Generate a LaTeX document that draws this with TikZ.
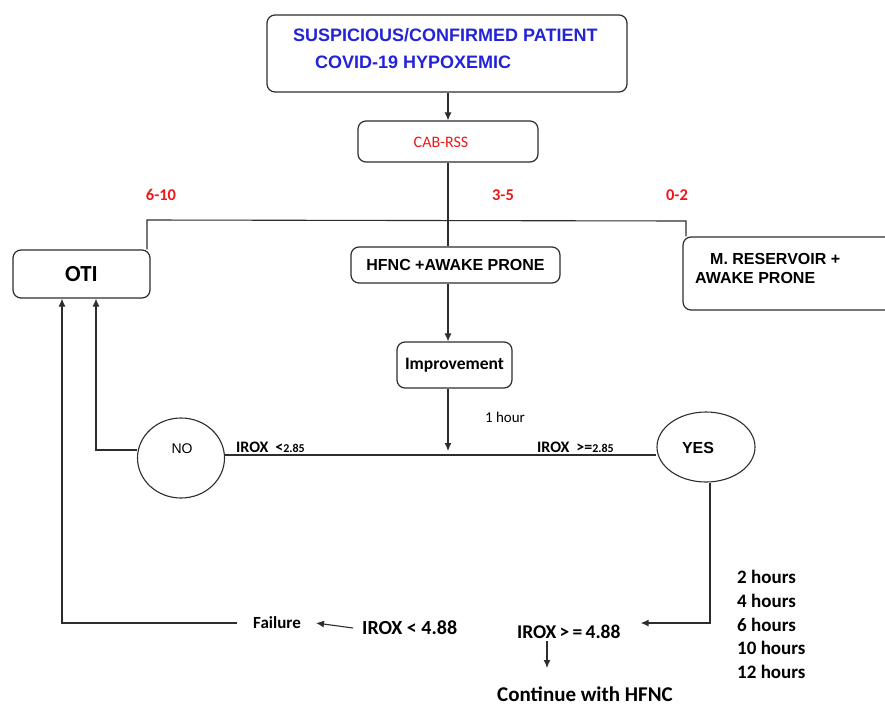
\documentclass[tikz,border=0pt]{standalone}
\usepackage{fontspec}
\setmainfont{Carlito}
\newfontfamily\arialf{Liberation Sans}
\usetikzlibrary{arrows.meta,shapes.geometric}
\definecolor{ttblue}{RGB}{35,35,215}
\definecolor{ttred}{RGB}{235,25,25}
\definecolor{lin}{RGB}{45,45,45}
\tikzset{
  box/.style={draw=lin, line width=1.2pt, rounded corners=8pt, inner sep=0pt},
  ell/.style={draw=lin, line width=1.1pt, ellipse, inner sep=0pt},
  ln/.style={draw=lin, line width=1.1pt},
  arr/.style={ln, -{Latex[length=8pt,width=7pt]}},
  txt/.style={inner sep=0pt},
  hdr/.style={txt, text=ttblue, font=\arialf\bfseries\fontsize{18}{20}\selectfont},
  score/.style={txt, text=ttred, font=\bfseries\fontsize{16.5}{18}\selectfont},
  arb/.style={font=\arialf\bfseries\fontsize{16}{18}\selectfont},
  cb/.style={txt, font=\bfseries\fontsize{#1}{#1}\selectfont},
}
\begin{document}
\begin{tikzpicture}[x=1pt,y=-1pt]
\path[use as bounding box, clip] (0,0) rectangle (885,707);
\fill[white] (0,0) rectangle (885,707);

% header
\node[box, minimum width=360pt, minimum height=77pt] (top) at (447,53.5) {};
\node[hdr, anchor=west] (t1) at (293,35) {SUSPICIOUS/CONFIRMED PATIENT};
\node[hdr, anchor=west] (t2) at (315,62) {COVID-19 HYPOXEMIC};

% CAB-RSS
\node[box, minimum width=180pt, minimum height=41pt] (cab) at (448,141.5) {};
\node[txt, text=ttred, font=\fontsize{16}{18}\selectfont] (cabt) at (441,142) {CAB-RSS};

\coordinate (spine) at (448,0);
\draw[arr] (top.south -| spine) -- (cab.north);

% scores
\node[score] (n610) at (161,195) {6-10};
\node[score] (n35) at (503,195) {3-5};
\node[score] (n02) at (677,195) {0-2};

% first-level boxes
\node[box, minimum width=137pt, minimum height=48pt, font=\bfseries\fontsize{23}{24}\selectfont] (oti) at (81.5,274) {OTI};
\node[box, minimum width=209pt, minimum height=36pt, arb] (hfnc) at (455.5,265) {HFNC +AWAKE PRONE};
\node[box, minimum width=212pt, minimum height=73pt] (mres) at (789,273.5) {};
\node[txt, arb, anchor=west] (m1) at (710,259) {M. RESERVOIR +};
\node[txt, arb, anchor=west] (m2) at (695,278) {AWAKE PRONE};

\coordinate (jl) at (147,220);
\coordinate (jr) at (686,221);
\draw[ln] (oti.north -| jl) -- (jl) -- (jr) -- (jr |- mres.north);
\draw[ln] (cab.south) -- (hfnc.north -| spine);

% improvement
\node[box, minimum width=115pt, minimum height=46pt, font=\bfseries\fontsize{17.5}{18}\selectfont] (imp) at (454.5,365) {Improvement};
\draw[arr] (hfnc.south -| spine) -- (imp.north -| spine);
\coordinate (hy) at (448,455);
\coordinate (hya) at (448,451);
\draw[arr] (imp.south -| spine) -- (hya);
\node[txt, font=\fontsize{15}{16}\selectfont] (oneh) at (505,417) {1 hour};

% NO / YES
\node[ell, minimum width=87pt, minimum height=80pt] (no) at (181,458) {};
\node[txt, font=\arialf\fontsize{14}{16}\selectfont] (nolab) at (182,449) {NO};
\node[ell, minimum width=98pt, minimum height=70pt] (yes) at (706,447) {};
\node[txt, font=\arialf\bfseries\fontsize{16}{18}\selectfont] (yeslab) at (698,448) {YES};
\draw[ln] (no.east |- hy) -- (yes.west |- hy);
\node[cb=16, anchor=west] (irl) at (236,447) {IROX\hspace{7pt}<{\fontsize{12}{12}\selectfont 2.85}};
\node[cb=16, anchor=west] (irr) at (537,447) {IROX\hspace{7pt}>={\fontsize{12}{12}\selectfont 2.85}};

\coordinate (nl) at (96,450);
\draw[arr] (no.west |- nl) -- (nl) -- (nl |- oti.south);

% bottom
\node[cb=17, anchor=west] (fail) at (253,623) {Failure};
\node[cb=20, anchor=west] (irox2) at (362,628) {IROX < 4.88};
\node[cb=19.5, anchor=west] (irox3) at (517,632) {IROX\,>\,=\,4.88};
\node[cb=21] (cont) at (585,694) {Continue with HFNC};
\node[txt, font=\bfseries\fontsize{19}{23.8}\selectfont, anchor=north west, align=left] (hrs) at (737,570) {2 hours\\4 hours\\6 hours\\10 hours\\12 hours};

\coordinate (fl) at (62,623);
\draw[arr] ([xshift=-16pt]fail.west) -- (fl) -- (fl |- oti.south);
\draw[arr] ([xshift=-9pt]irox2.west) -- ([xshift=15pt]fail.east);

\coordinate (yc) at (710,623);
\draw[arr] (yes.south -| yc) -- (yc) -- ([xshift=20pt]irox3.east |- yc);
\coordinate (ax) at (547,668);
\draw[arr] ([yshift=-2pt]irox3.south -| ax) -- (ax);
\end{tikzpicture}
\end{document}
